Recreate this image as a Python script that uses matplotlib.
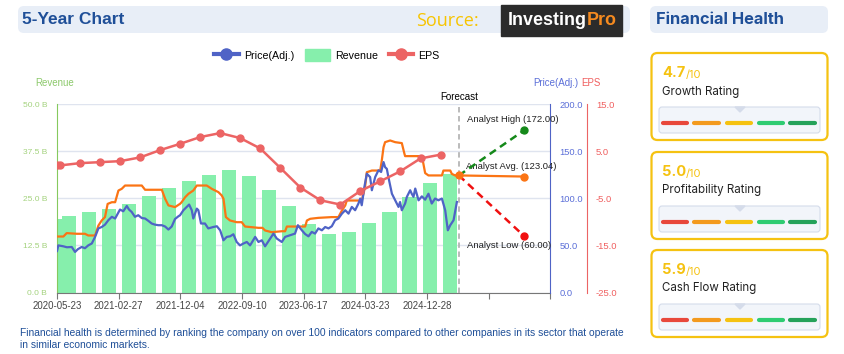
import numpy as np
import pandas as pd
import matplotlib
matplotlib.use('Agg')
import matplotlib.pyplot as plt
import matplotlib.dates as mdates
from matplotlib.patches import FancyBboxPatch, Polygon, Patch
from matplotlib.lines import Line2D

plt.rcParams['font.family'] = ['Liberation Sans', 'DejaVu Sans']

# ---- data ----
start = pd.Timestamp('2020-05-23')

rev_dates = ['2020-05-14', '2020-07-16', '2020-10-15', '2021-01-14', '2021-04-15', '2021-07-15',
             '2021-10-14', '2022-01-13', '2022-04-14', '2022-07-14', '2022-10-13', '2023-01-12',
             '2023-04-13', '2023-07-13', '2023-10-12', '2024-01-11', '2024-04-11', '2024-07-11',
             '2024-10-10', '2025-01-09', '2025-04-10']
rev_values = [19.4, 20.2, 21.3, 22.1, 23.4, 25.5, 27.7, 29.5, 31.1, 32.4, 30.9, 27.1,
              22.9, 18.1, 15.4, 16.0, 18.4, 21.3, 25.2, 29.0, 31.4]  # billions

eps_dates = ['2020-05-23', '2020-06-05', '2020-09-04', '2020-12-04', '2021-03-05', '2021-06-04',
             '2021-09-03', '2021-12-03', '2022-03-04', '2022-06-03', '2022-09-02', '2022-12-02',
             '2023-03-03', '2023-06-02', '2023-09-01', '2023-12-01', '2024-03-01', '2024-05-31',
             '2024-08-30', '2024-11-29', '2025-02-28']
eps_values = [2.0, 1.96, 2.45, 2.66, 2.87, 3.66, 5.21, 6.55, 7.98, 8.83, 7.77, 5.57,
              1.45, -2.72, -5.43, -6.34, -3.45, -1.38, 0.74, 3.45, 4.25]

# days since 2020-05-23
price_days = [0, 6, 29, 45, 67, 82, 95, 112, 127, 142, 158, 173, 188, 203, 218, 233, 249, 264, 277, 286,
              301, 317, 327, 339, 354, 369, 385, 400, 415, 430, 445, 460, 476, 491, 506, 521, 536, 551, 559, 574,
              589, 600, 612, 619, 627, 635, 642, 654, 672, 687, 710, 726, 741, 756, 771, 786, 801, 816, 831, 846,
              862, 877, 900, 915, 930, 945, 968, 983, 998, 1021, 1036, 1059, 1081, 1094, 1112, 1127, 1142, 1157,
              1172, 1187, 1203, 1218, 1233, 1248, 1263, 1278, 1294, 1309, 1324, 1339, 1354, 1369, 1377, 1384,
              1396, 1407, 1422, 1430, 1445, 1460, 1472, 1483, 1490, 1498, 1505, 1521, 1536, 1551, 1558, 1566,
              1581, 1589, 1604, 1611, 1619, 1627, 1642, 1657, 1672, 1687, 1702, 1717, 1732, 1748, 1763, 1775,
              1786, 1801, 1816]
price_values = [44, 50, 49, 48, 48.3, 43, 46, 48.3, 47, 50, 52, 59, 68, 69.5, 72, 76.7, 80.3, 78.5, 84, 88,
                86.2, 91.8, 88, 85.5, 80.3, 82, 79, 78.5, 76, 73.2, 72, 71.4, 71.4, 70, 66.8, 70, 78, 80.8, 82, 87.3,
                90.8, 93.3, 87.3, 78.5, 83.7, 89, 87.3, 73.2, 73.2, 68, 69.5, 70.3, 66, 55.4, 59, 59.6, 61.8, 53.6, 50, 51.9,
                53.6, 50, 59, 53.6, 55.4, 49, 57.3, 62.5, 57.3, 53.6, 59, 60.8, 62.5, 71.4, 66, 62, 59.6, 64.3,
                62.5, 68, 66, 69.5, 68, 70.3, 76.7, 78.5, 83.7, 87.3, 83.7, 90.8, 87.3, 94.4, 99.7, 92.6,
                112, 126, 122.5, 108.5, 122.5, 129.7, 127.9, 138.4, 133, 131.2, 122.5, 104.8, 97.8, 90.8, 96, 87.3,
                94.4, 101.5, 108.5, 104.8, 101.5, 110.3, 97.8, 102, 98.5, 104.8, 94.4, 99.7, 97.8, 99.7, 87.3, 66,
                71.4, 76.7, 96]

target_days = [0, 29, 44, 90, 127, 142, 173, 188, 203, 218, 230, 249, 264, 279, 294, 309, 385, 400, 476, 491,
               506, 536, 559, 566, 582, 597, 619, 635, 680, 703, 733, 748, 756, 767, 786, 816, 839, 854, 915, 933,
               945, 975, 1021, 1036, 1044, 1127, 1135, 1150, 1187, 1248, 1278, 1294, 1309, 1316, 1384, 1399, 1407,
               1430, 1468, 1475, 1483, 1490, 1513, 1536, 1566, 1578, 1581, 1657, 1664, 1672, 1687, 1748, 1755,
               1786, 1793, 1808, 1825]
target_values = [59.4, 59.4, 63, 62.3, 62.3, 60.5, 60.5, 71, 76.4, 80, 94, 95.8, 95.8, 108.2, 110, 113.5, 113.5, 109, 109, 99.5,
                 92.4, 90.6, 94.1, 95.8, 101.1, 104.7, 108.2, 113.5, 113.5, 110, 106.5, 103, 99.5, 80, 76.4, 74.6, 74.6, 70, 68.6, 68.6,
                 65.8, 64, 65, 65, 70, 70, 76.4, 78.2, 79.2, 80, 80, 87, 92.3, 97.6, 97.6, 111.7, 127.6,
                 129.4, 129.4, 140, 154.2, 159.5, 161.3, 159.5, 158.5, 147.1, 144.7, 144.7, 136.6, 126.7, 124.2, 124.2, 129.4,
                 129.4, 125.9, 124.2, 124.2]

forecast_date = pd.Timestamp('2025-05-22')
target_date = pd.Timestamp('2026-03-14')
analyst_high, analyst_avg, analyst_low = 172.00, 123.04, 60.00

tick_dates = ['2020-05-23', '2021-02-27', '2021-12-04', '2022-09-10', '2023-06-17',
              '2024-03-23', '2024-12-28', '2025-10-04', '2026-07-10']
tick_labels = ['2020-05-23', '2021-02-27', '2021-12-04', '2022-09-10', '2023-06-17',
               '2024-03-23', '2024-12-28', '', '']

rating_scores = ['4.7', '5.0', '5.9']
rating_names = ['Growth Rating', 'Profitability Rating', 'Cash Flow Rating']

# ---- colours ----
c_rev = '#86efac'
c_price = '#4f63c6'
c_eps = '#ec6464'
c_target = '#fb7414'
c_navy = '#1f4f98'
c_gold = '#f5c211'

W, H = 844, 354
fig = plt.figure(figsize=(W / 100, H / 100), dpi=100)

# overlay in pixel units (y down) for the page decorations
ov = fig.add_axes([0, 0, 1, 1], zorder=-5)
ov.set_xlim(0, W)
ov.set_ylim(H, 0)
ov.axis('off')


def rbox(x, y, w, h, fc, ec='none', lw=0, r=5):
    ov.add_patch(FancyBboxPatch((x, y), w, h, boxstyle=f'round,pad=0,rounding_size={r}',
                                fc=fc, ec=ec, lw=lw))


# header
rbox(18, 6, 612, 27, '#e8eef7', r=6)
ov.text(22, 19.5, '5-Year Chart', fontsize=12.5, fontweight='bold', color=c_navy, va='center')
ov.text(416, 21, 'Source:', fontsize=13, color='#f7c400', va='center', family=['Open Sans', 'DejaVu Sans'])
ov.add_patch(plt.Rectangle((501, 5), 121, 31, color='#2b2b2b'))
t1 = ov.text(508, 20.5, 'Investing', fontsize=12.9, fontweight='bold', color='white', va='center')
ov.annotate('Pro', xy=(1, 0), xycoords=t1, va='bottom', ha='left', fontsize=12.9,
            fontweight='bold', color='#f58a1f')

# financial health panel
rbox(650, 6, 178, 27, '#e8eef7', r=6)
ov.text(656, 19.5, 'Financial Health', fontsize=11.8, fontweight='bold', color=c_navy, va='center',
        family=['Inter', 'DejaVu Sans'])
dash_cols = ['#e8483b', '#f39a1e', '#f5c211', '#2fcc72', '#25a25a']
dash_x = [(663, 687), (694, 719), (727, 751), (759, 783), (790, 815)]
for i, top in enumerate([53, 152, 250]):
    rbox(651.5, top, 176, 87, 'white', ec=c_gold, lw=1.6, r=6)
    ts = ov.text(662, top + 20, rating_scores[i], fontsize=10.5, fontweight='bold', color=c_gold,
                 va='center', family=['Inter', 'DejaVu Sans'])
    ov.annotate('/10', xy=(1, 0), xycoords=ts, va='bottom', ha='left', fontsize=8,
                color=c_gold, family=['Inter', 'DejaVu Sans'])
    ov.text(662, top + 38.5, rating_names[i], fontsize=8.3, color='#222222', va='center',
            family=['Inter', 'DejaVu Sans'])
    rbox(659, top + 54, 161, 26, '#f2f5fa', ec='#d5dcea', lw=0.8, r=3)
    ov.add_patch(Polygon([(735, top + 54), (745, top + 54), (740, top + 59)], color='#d5dcea'))
    for (xa, xb), c in zip(dash_x, dash_cols):
        ov.plot([xa, xb], [top + 70, top + 70], color=c, lw=3, solid_capstyle='round')

# footnote
ov.text(20, 333, 'Financial health is determined by ranking the company on over 100 indicators compared to '
        'other companies in its sector that operate', fontsize=7.35, color=c_navy, va='center')
ov.text(20, 345, 'in similar economic markets.', fontsize=7.35, color=c_navy, va='center')

# ---- main chart ----
ax = fig.add_axes([57 / W, (H - 292.5) / H, 493 / W, 188.5 / H])
ax.bar(pd.to_datetime(rev_dates), rev_values, width=64, color=c_rev, zorder=2)
ax.set_ylim(0, 50)
ax.set_yticks([0, 12.5, 25, 37.5, 50])
ax.set_yticklabels([f'{v:.1f} B' for v in [0, 12.5, 25, 37.5, 50]])
ax.set_xlim(start, pd.Timestamp('2026-07-10'))
ax.set_xticks(pd.to_datetime(tick_dates))
ax.set_xticklabels(tick_labels)
ax.grid(axis='y', color='#dfe4ef', lw=1)
ax.set_axisbelow(True)
for s in ['top', 'right']:
    ax.spines[s].set_visible(False)
ax.spines['left'].set_color('#86c95e')
ax.spines['bottom'].set_color('#777777')
ax.tick_params(axis='y', length=0, pad=7, labelsize=6, labelcolor='#a3d27d')
ax.tick_params(axis='x', length=4, color='#777777', pad=2, labelsize=6.9, labelcolor='#444444')

ax2 = ax.twinx()
ax2.plot(start + pd.to_timedelta(target_days, unit='D'), target_values,
         color=c_target, lw=1.6, zorder=3)
ax2.plot(start + pd.to_timedelta(price_days, unit='D'), price_values,
         color=c_price, lw=1.6, zorder=4)
ax2.set_ylim(0, 200)
ax2.set_yticks([0, 50, 100, 150, 200])
ax2.set_yticklabels([f'{v:.1f}' for v in [0, 50, 100, 150, 200]])
for s in ['top', 'left', 'bottom']:
    ax2.spines[s].set_visible(False)
ax2.spines['right'].set_color(c_price)
ax2.tick_params(axis='y', length=0, pad=7, labelsize=6.7, labelcolor='#5b6fd8')

# forecast
fnum = mdates.date2num(forecast_date)
tnum = mdates.date2num(target_date)
ax2.axvline(forecast_date, color='#b5b5b5', lw=1.3, ls=(0, (3, 2)), zorder=1)
ax2.annotate('Forecast', xy=(fnum, 1), xycoords=ax2.get_xaxis_transform(),
             xytext=(0, 1.5), textcoords='offset points', ha='center', va='bottom', fontsize=7)
last = target_values[-1]
ax2.plot([forecast_date, target_date], [last, analyst_high], color='#15891a', lw=1.8, ls=(0, (3, 2)), zorder=5)
ax2.plot([forecast_date, target_date], [last, analyst_low], color='#f01010', lw=1.8, ls=(0, (3, 2)), zorder=5)
ax2.plot([forecast_date, target_date], [last, analyst_avg], color=c_target, lw=1.6, zorder=5)
ax2.plot([target_date], [analyst_high], 'o', color='#15891a', ms=5, zorder=6)
ax2.plot([target_date], [analyst_low], 'o', color='#f01010', ms=5, zorder=6)
ax2.plot([target_date], [analyst_avg], 'o', color=c_target, ms=5, zorder=6)
ax2.plot([forecast_date], [last], 'o', color=c_target, ms=5, zorder=6)
ax2.annotate(f'Analyst High ({analyst_high:.2f})', xy=(tnum, analyst_high), xytext=(-8.3, 7.7),
             textcoords='offset points', ha='center', va='center', fontsize=6.8, color='#222222')
ax2.annotate(f'Analyst Avg. ({analyst_avg:.2f})', xy=(tnum, analyst_avg), xytext=(-9, 7.2),
             textcoords='offset points', ha='center', va='center', fontsize=6.8, color='#222222')
ax2.annotate(f'Analyst Low ({analyst_low:.2f})', xy=(tnum, analyst_low), xytext=(-10.5, -7),
             textcoords='offset points', ha='center', va='center', fontsize=6.8, color='#222222')

ax3 = ax.twinx()
ax3.plot(pd.to_datetime(eps_dates), eps_values, color=c_eps, lw=1.8, marker='o', ms=5, zorder=5)
ax3.set_ylim(-25, 15)
ax3.set_yticks([-25, -15, -5, 5, 15])
ax3.set_yticklabels([f'{v:.1f}' for v in [-25, -15, -5, 5, 15]])
for s in ['top', 'left', 'bottom']:
    ax3.spines[s].set_visible(False)
ax3.spines['right'].set_position(('outward', 37 * 0.72))
ax3.spines['right'].set_color(c_eps)
ax3.tick_params(axis='y', length=0, pad=6.5, labelsize=6.8, labelcolor='#f06060')

# axis titles
fig.text(55 / W, 1 - 83 / H, 'Revenue', fontsize=7, color='#8cc96b', ha='center', va='center')
fig.text(578 / W, 1 - 83 / H, 'Price(Adj.)', fontsize=7, color='#5b6fd8', ha='right', va='center')
fig.text(581 / W, 1 - 83 / H, 'EPS', fontsize=7, color='#f06060', ha='left', va='center')

# legend
handles = [Line2D([], [], color=c_price, lw=3, marker='o', ms=8),
           Patch(color=c_rev),
           Line2D([], [], color=c_eps, lw=3, marker='o', ms=8)]
fig.legend(handles, ['Price(Adj.)', 'Revenue', 'EPS'], loc='center', ncol=3, frameon=False,
           bbox_to_anchor=(327 / W, 1 - 55 / H), fontsize=7.7, handlelength=2.3, handleheight=1.3,
           handletextpad=0.5, columnspacing=1.0)

fig.savefig('out.png', dpi=100)
